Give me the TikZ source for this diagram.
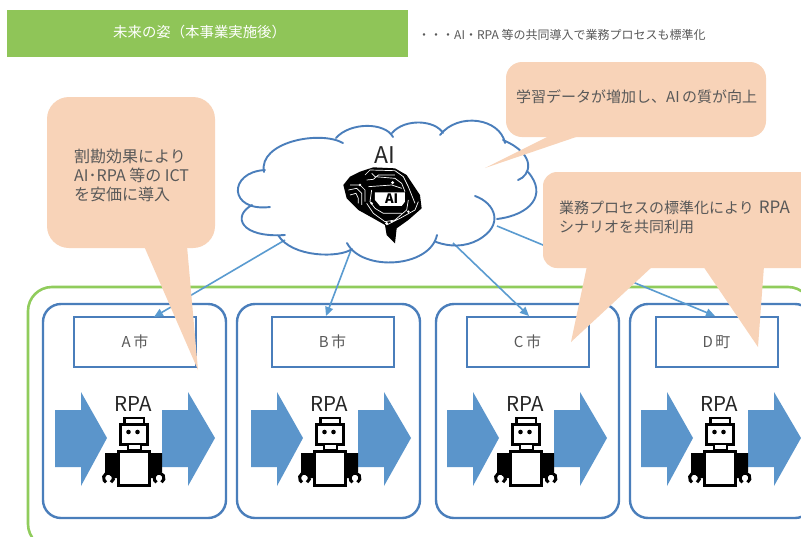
\documentclass[tikz,border=0pt]{standalone}
\usepackage{fontspec}
\setmainfont{Noto Sans CJK JP}
\usetikzlibrary{arrows.meta}
\definecolor{hdrgreen}{HTML}{8FC558}
\definecolor{framegreen}{HTML}{90CC5C}
\definecolor{cardblue}{HTML}{4A7EBB}
\definecolor{flowblue}{HTML}{5B95CB}
\definecolor{linkblue}{HTML}{5A9BD0}
\definecolor{peach}{HTML}{F8D3B8}
\definecolor{txt}{HTML}{595959}
\tikzset{
  x=1pt,y=-1pt,
  cardbox/.style={draw=cardblue,line width=2.4pt,rounded corners=18pt},
  labelbox/.style={draw=cardblue,line width=2pt,fill=white,minimum width=122pt,minimum height=50pt,inner sep=0pt,text=txt,font=\fontsize{15}{17}\selectfont},
  link/.style={draw=linkblue,line width=1.6pt,-{Triangle[length=9pt,width=8pt]}},
  flowarrow/.style={fill=flowblue,draw=none},
  callout/.style={fill=peach,draw=none},
  calltext/.style={anchor=west,text=txt,inner sep=0pt,align=left,font=\fontsize{15}{19}\selectfont},
  cloudline/.style={draw=cardblue,line width=1.9pt,line cap=round},
  robotunit/.pic={
    \fill[flowarrow] (55,410)--(81,410)--(81,392)--(107,438)--(81,486)--(81,467)--(55,467)--cycle;
    \fill[flowarrow] (162,410)--(188,410)--(188,392)--(215,438)--(188,486)--(188,467)--(162,467)--cycle;
    \node[text=black!85,inner sep=0pt,font=\fontsize{20.5}{22}\selectfont] (-rpa) at (133.5,404) {RPA};
    % robot
    \draw[black,line width=2.4pt,fill=white] (124.5,418) rectangle (144,424);
    \draw[black,line width=3pt,fill=white] (120.5,424) rectangle (147.5,444);
    \fill[black] (128.5,432) circle (2.3pt) (137.5,432) circle (2.3pt);
    \draw[black,line width=2.2pt,fill=white] (128,444) rectangle (141,450);
    \fill[black] (105,453) -- (118,453) -- (118,478) -- (114,478) -- (105,472) -- cycle;
    \fill[black] (162,453) -- (149,453) -- (149,478) -- (153,478) -- (162,472) -- cycle;
    \draw[black,line width=3pt,fill=white] (118.5,451) rectangle (149.5,485);
    \draw[black,line width=3pt] (111,482.3) arc (-60:240:5pt);
    \draw[black,line width=3pt] (161.5,482.3) arc (-60:240:5pt);
  }
}
\begin{document}
\begin{tikzpicture}
\clip (0,0) rectangle (801,536);
\fill[white] (0,0) rectangle (801,536);
% header
\node[fill=hdrgreen,minimum width=401pt,minimum height=47pt,inner sep=0pt,anchor=north west] (hdr) at (7,10) {};
\node[anchor=west,text=white,inner sep=0pt,font=\fontsize{14.4}{16}\selectfont] (hdrtext) at (113,32) {未来の姿（本事業実施後）};
\node[anchor=west,text=txt,inner sep=0pt,font=\fontsize{12}{14}\selectfont] (subtitle) at (418,35) {・・・AI・RPA 等の共同導入で業務プロセスも標準化};
% frame
\draw[draw=framegreen,line width=2.6pt,rounded corners=24pt] (28,287) rectangle (812,548);
% cards
\draw[cardbox] (43,304) rectangle (226,518);
\draw[cardbox] (237,304) rectangle (420,518);
\draw[cardbox] (436,304) rectangle (619,518);
\draw[cardbox] (630,304) rectangle (813,518);
\node[labelbox] (boxA) at (135,342) {A\,市};
\node[labelbox] (boxB) at (332.5,342) {B\,市};
\node[labelbox] (boxC) at (527.5,342) {C\,市};
\node[labelbox] (boxD) at (716.5,342) {D\,町};
\pic (unitA) at (0,0) {robotunit};
\pic (unitB) at (196,0) {robotunit};
\pic (unitC) at (392,0) {robotunit};
\pic (unitD) at (586,0) {robotunit};
% links
\coordinate (cloudA) at (285,240);
\coordinate (cloudB) at (351,250);
\coordinate (cloudC) at (453,243);
\coordinate (cloudD) at (497,226);
\coordinate (endA) at (154,317);
\coordinate (endB) at (326,316);
\coordinate (endC) at (529,316);
\coordinate (endD) at (715,316);
\draw[link] (cloudA) -- (endA);
\draw[link] (cloudB) -- (endB);
\draw[link] (cloudC) -- (endC);
\draw[link] (cloudD) -- (endD);
% cloud
\draw[cloudline]
  (265,170) .. controls (228,172) and (228,212) .. (270,207)
  (252,205) .. controls (232,216) and (240,238) .. (285,235)
  (278,235) .. controls (292,258) and (340,258) .. (352,249)
  (347,243) .. controls (362,272) and (430,268) .. (437,235)
  (436,242) .. controls (450,247) and (465,247) .. (478,240)
  (475,196) .. controls (495,203) and (505,225) .. (478,240)
  (497,219) .. controls (530,215) and (548,195) .. (528,172)
  (518,180) .. controls (530,176) and (538,155) .. (503,140)
  (505,143) .. controls (500,118) and (458,112) .. (440,135)
  (264,172) .. controls (258,142) and (320,130) .. (343,143)
  (336,138) .. controls (350,122) and (385,122) .. (393,137)
  (392,133) .. controls (405,118) and (435,120) .. (443,133);
\node[text=black!85,inner sep=0pt,font=\fontsize{23}{24}\selectfont] (ailabel) at (384.5,155) {AI};
% brain
\begin{scope}[shift={(340,160)},x=0.3333pt,y=-0.3333pt]
\fill[black] (60,35)--(100,22)--(165,25)--(200,45)--(220,75)--(240,105)--(245,145)--(205,180)--(170,205)--(165,250)--(140,225)--(135,195)--(100,175)--(55,150)--(20,115)--(10,75)--(30,50)--cycle;
\draw[white,line width=.7pt]
 (75,45)--(90,30)--(165,32)--(190,50)--(205,80)--(215,105)--(225,130)
 (80,60)--(100,58)--(115,45)--(165,45)
 (95,40)--(105,50)--(165,55)--(185,70)--(195,95)
 (30,75)--(60,75)--(75,90)--(75,125)
 (25,90)--(50,85)--(65,100)--(65,135)
 (30,105)--(48,100)--(55,115)--(55,130)
 (85,80)--(155,75)--(185,85)
 (95,90)--(90,125)--(105,145)--(130,160)--(185,160)
 (80,130)--(100,160)--(135,185)--(165,180)--(200,150)--(205,120)
 (140,195)--(180,175)--(225,150)--(235,125);
\fill[white] (158,68) circle (1.6pt) (60,75) circle (1.4pt) (140,190) circle (1.6pt) (155,185) circle (1.4pt) (95,130) circle (1.4pt) (205,155) circle (1.4pt);
\fill[white] (105,97)--(195,97)--(195,125)--(185,138)--(120,138)--(105,120)--cycle;
\node[text=black,inner sep=0pt,font=\bfseries\fontsize{13}{14}\selectfont] (brainai) at (155,116) {AI};
\end{scope}
% callouts
\fill[callout,rounded corners=22pt] (47,97) rectangle (215,248);
\fill[callout] (144,246)--(187,246)--(198,370)--cycle;
\fill[callout,rounded corners=16pt] (506,62) rectangle (766,137);
\fill[callout] (551,135)--(582,135)--(485,168)--cycle;
\fill[callout,rounded corners=14pt] (543,172) rectangle (830,268);
\fill[callout] (587,266)--(653,266)--(571,342)--cycle;
\fill[callout] (703,266)--(764,266)--(758,347)--cycle;
\node[calltext,font=\fontsize{16}{19}\selectfont] (noteA) at (74,175) {割勘効果により\\AI･RPA 等の ICT\\を安価に導入};
\node[calltext,font=\fontsize{15}{19}\selectfont] (noteB) at (516,97) {学習データが増加し、AI\,の質が向上};
\node[calltext] (noteC) at (559,217.5) {業務プロセスの標準化により\hspace{5pt}{\fontsize{17}{19}\selectfont RPA}\\シナリオを共同利用};
\end{tikzpicture}
\end{document}
